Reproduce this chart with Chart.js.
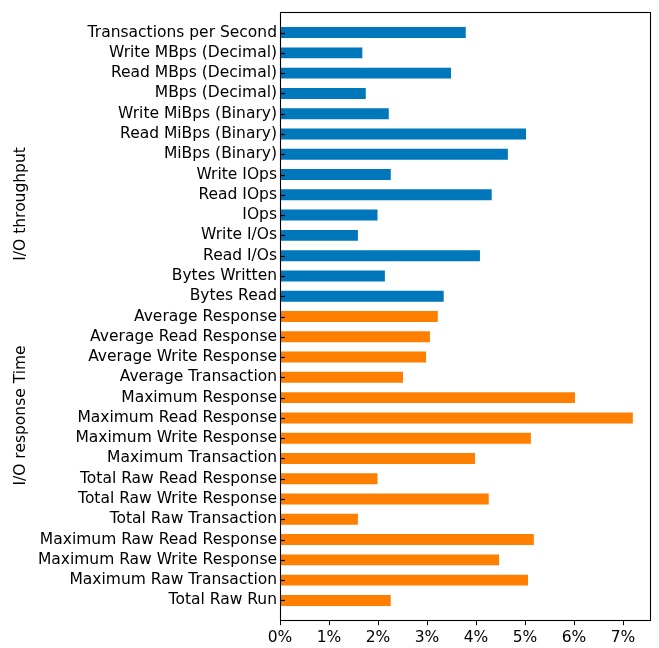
<!DOCTYPE html>
<html>
<head>
<meta charset="utf-8">
<script src="https://cdn.jsdelivr.net/npm/chart.js@4/dist/chart.umd.min.js"></script>
<style>
  html, body { margin: 0; padding: 0; background: #fff; }
  #wrap { width: 659px; height: 648px; }
</style>
</head>
<body>
<div id="wrap"><canvas id="c" width="659" height="648"></canvas></div>
<script>
// Relative deviation per metric, in percent
const throughputLabels = [
  'Transactions per Second', 'Write MBps (Decimal)', 'Read MBps (Decimal)', 'MBps (Decimal)',
  'Write MiBps (Binary)', 'Read MiBps (Binary)', 'MiBps (Binary)', 'Write IOps', 'Read IOps',
  'IOps', 'Write I/Os', 'Read I/Os', 'Bytes Written', 'Bytes Read'
];
const throughputValues = [3.79, 1.68, 3.49, 1.75, 2.22, 5.02, 4.65, 2.26, 4.32, 1.99, 1.59, 4.08, 2.14, 3.34];

const responseLabels = [
  'Average Response', 'Average Read Response', 'Average Write Response', 'Average Transaction',
  'Maximum Response', 'Maximum Read Response', 'Maximum Write Response', 'Maximum Transaction',
  'Total Raw Read Response', 'Total Raw Write Response', 'Total Raw Transaction',
  'Maximum Raw Read Response', 'Maximum Raw Write Response', 'Maximum Raw Transaction', 'Total Raw Run'
];
const responseValues = [3.22, 3.06, 2.98, 2.51, 6.02, 7.20, 5.12, 3.98, 1.99, 4.26, 1.59, 5.18, 4.47, 5.06, 2.26];

const xTicks = [0, 1, 2, 3, 4, 5, 6, 7];
const groupTitles = ['I/O throughput', 'I/O response Time'];

const FONT = { family: 'DejaVu Sans', size: 15.5 };

// one empty slot above and below keeps a full row of margin at each end
const labels = ['', ...throughputLabels, ...responseLabels, ''];
const nT = throughputLabels.length, nR = responseLabels.length;
const throughputData = [null, ...throughputValues, ...Array(nR).fill(null), null];
const responseData = [null, ...Array(nT).fill(null), ...responseValues, null];

// frame, inward y tick marks and the rotated group titles
const decorations = {
  id: 'decorations',
  afterDatasetsDraw(chart) {
    const { ctx, chartArea: a, scales } = chart;
    const y = scales.y;
    ctx.save();
    ctx.strokeStyle = '#000';
    ctx.lineWidth = 1.2;
    for (let i = 1; i < labels.length - 1; i++) {
      const py = Math.round(y.getPixelForValue(i)) + 0.5;
      ctx.beginPath();
      ctx.moveTo(a.left, py);
      ctx.lineTo(a.left + 5, py);
      ctx.stroke();
    }
    ctx.lineWidth = 1.1;
    ctx.strokeRect(Math.round(a.left) + 0.5, Math.round(a.top) + 0.5,
      Math.round(a.right - a.left), Math.round(a.bottom - a.top));
    ctx.fillStyle = '#000';
    ctx.font = `${FONT.size}px "${FONT.family}"`;
    ctx.textAlign = 'center';
    ctx.textBaseline = 'middle';
    const titleRows = [9.45, 19.88];
    groupTitles.forEach((t, k) => {
      ctx.save();
      ctx.translate(21, y.getPixelForValue(titleRows[k]));
      ctx.rotate(-Math.PI / 2);
      ctx.fillText(t, 0, 0);
      ctx.restore();
    });
    ctx.restore();
  }
};

new Chart(document.getElementById('c'), {
  type: 'bar',
  data: {
    labels,
    datasets: [
      { label: groupTitles[0], data: throughputData, backgroundColor: '#0077bb' },
      { label: groupTitles[1], data: responseData, backgroundColor: '#ff8000' }
    ]
  },
  options: {
    indexAxis: 'y',
    responsive: false,
    animation: false,
    skipNull: true,
    categoryPercentage: 1,
    barPercentage: 0.54,
    layout: { padding: { top: 11, right: 9, bottom: 0, left: 0 } },
    plugins: { legend: { display: false }, tooltip: { enabled: false } },
    scales: {
      x: {
        type: 'linear',
        min: 0,
        max: 7.55,
        afterBuildTicks: s => { s.ticks = xTicks.map(v => ({ value: v })); },
        ticks: { callback: v => v + '%', font: FONT, color: '#000', padding: 3, maxRotation: 0 },
        grid: { drawOnChartArea: false, drawTicks: true, tickLength: 4.5, tickColor: '#000', tickWidth: 1 },
        border: { display: false },
        afterFit: s => { s.height = 27.3; }
      },
      y: {
        type: 'category',
        offset: false,
        ticks: { font: FONT, color: '#000', padding: 3, autoSkip: false },
        grid: { display: false, drawTicks: false },
        border: { display: false },
        afterFit: s => { s.width = 280; }
      }
    }
  },
  plugins: [decorations]
});
</script>
</body>
</html>
